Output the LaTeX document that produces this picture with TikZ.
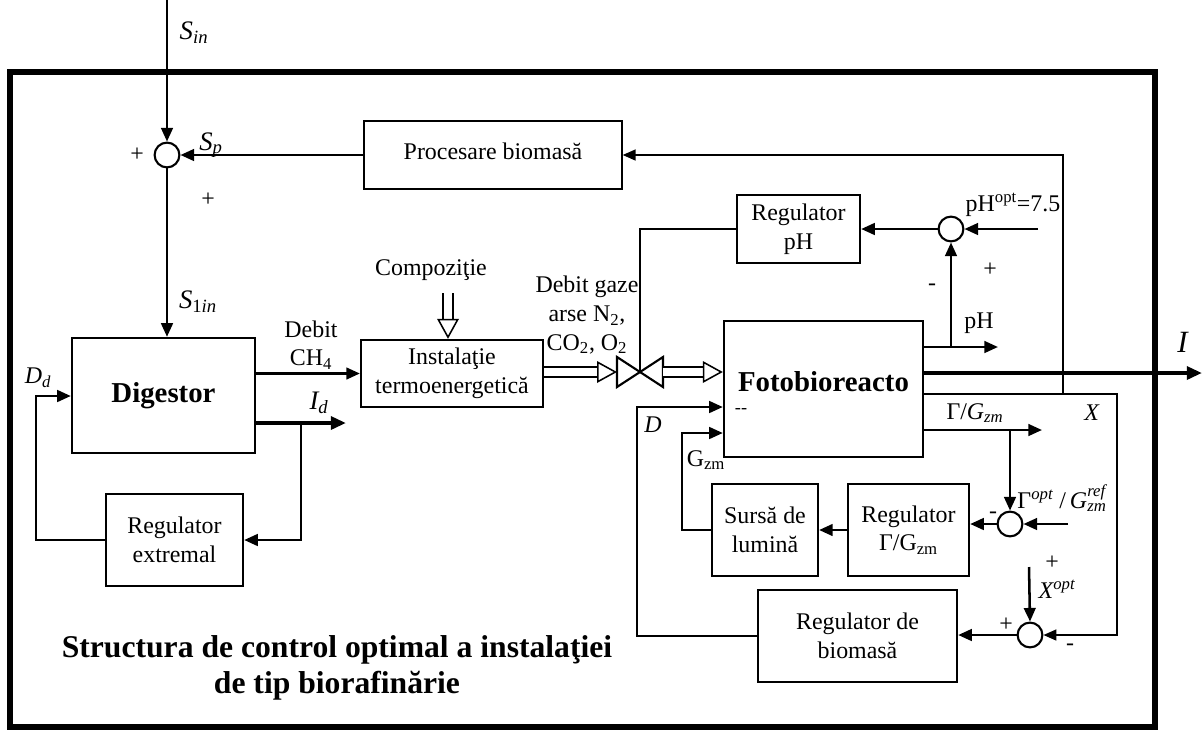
\documentclass[tikz,border=0pt]{standalone}
\usepackage{amsmath}
\usepackage{fontspec}
\setmainfont{Liberation Serif}
\usepackage{tikz}
\usetikzlibrary{arrows.meta, positioning, calc}
\tikzset{
	blk/.style  ={rectangle, draw=black, line width=1.5pt, align=center, inner sep=1pt},
	sumj/.style ={circle, draw=black, line width=1.5pt, minimum size=0.62cm, inner sep=0pt},
	sig/.style  ={-{Triangle[length=3.4mm, width=2.9mm]}, line width=1.8pt},
	wire/.style ={line width=1.2pt},
	fbk/.style  ={-{Triangle[length=3.2mm, width=2.7mm]}, line width=1.2pt},
	gas/.style  ={double, double distance=0.2cm, line width=1.1pt, -{Triangle[open, length=5mm, width=5.4mm]}},
	thk/.style  ={-{Triangle[length=3.8mm, width=3.2mm]}, line width=2.9pt},
	lbl/.style  ={inner sep=0pt},
	boldtxt/.style={font=\fontsize{20.5pt}{24pt}\selectfont\bfseries},
}

\begin{document}
\begin{tikzpicture}[x=0.025cm, y=-0.025cm, font=\fontsize{17pt}{20.5pt}\selectfont]
	\useasboundingbox (0,0) rectangle (1202,732);
	% frame of the plant
	\draw[line width=4.7pt] (10,72) rectangle (1155,727);
	% blocks
	\node[blk, minimum width=6.43cm, minimum height=1.7cm] (proc) at (493,155) {\raisebox{6pt}{Procesare biomasă}};
	\node[blk, boldtxt, minimum width=4.58cm, minimum height=2.88cm] (dig) at (163.5,395.5) {Digestor};
	\node[blk, minimum width=4.55cm, minimum height=1.68cm] (inst) at (452,373.5) {Instalaţie\\ termoenergetică};
	\node[blk, minimum width=3.43cm, minimum height=2.3cm] (regext) at (174.5,540) {Regulator\\ extremal};
	\node[blk, minimum width=3.08cm, minimum height=1.7cm] (regph) at (798.5,229) {Regulator\\ pH};
	\node[blk, boldtxt, minimum width=4.98cm, minimum height=3.4cm] (foto) at (823.5,389) {\raisebox{10pt}{Fotobioreacto}};
	\node[blk, minimum width=2.65cm, minimum height=2.28cm] (sursa) at (765,530) {Sursă de\\ lumină};
	\node[blk, minimum width=3.03cm, minimum height=2.28cm] (reggz) at (908.5,530) {Regulator\\ Γ/G\textsubscript{zm}};
	\node[blk, minimum width=4.98cm, minimum height=2.28cm] (regbio) at (857.5,636) {Regulator de\\ biomasă};
	% summing junctions
	\node[sumj] (sum1) at (167,155) {};
	\node[sumj] (sumph) at (951,229) {};
	\node[sumj] (sumg) at (1010,524) {};
	\node[sumj] (sumx) at (1030,635) {};
	% free ends and corners
	\coordinate (sinstart) at (167,0);
	\coordinate (idend) at (346,423);
	\coordinate (idtap) at (301,423);
	\coordinate (ddcorner) at (36,396);
	\coordinate (compin) at (448,293);
	\coordinate (valve) at (640,372);
	\coordinate (vin) at (617,372);
	\coordinate (vout) at (663,372);
	\coordinate (phend) at (998,347);
	\coordinate (phref) at (1038,229);
	\coordinate (Iend) at (1202,373);
	\coordinate (xtop) at (1117,394);
	\coordinate (fbtap) at (1063,394);
	\coordinate (gzend) at (1042,430);
	\coordinate (gref) at (1068,524);
	\coordinate (gcorner) at (682,433);
	\coordinate (xopt) at (1029,567);
	\coordinate (dcorner) at (637,407);
	% valve
	\draw[line width=1.5pt] (vin) ++(0,-15) -- ++(0,30) -- (valve) -- cycle;
	\draw[line width=1.5pt] (vout) ++(0,-15) -- ++(0,30) -- (valve) -- cycle;
	% digester loop
	\draw[sig] (sinstart) -- (sum1.north);
	\draw[sig] (proc.west) -- (sum1.east);
	\draw[sig] (sum1.south) -- (sum1 |- dig.north);
	\draw[sig] (dig.east |- inst.west) -- (inst.west);
	\draw[thk] (dig.east |- idend) -- (idend);
	\draw[sig] (idtap) |- (regext.east);
	\draw[sig] (regext.west) -| (ddcorner) -- (ddcorner -| dig.west);
	% gas flows
	\draw[gas] (compin) -- (compin |- inst.north);
	\draw[gas] (inst.east |- vin) -- (vin);
	\draw[gas] (vout) -- (vout -| foto.west);
	% pH loop
	\draw[wire] (regph.west) -| (valve);
	\draw[sig] (sumph.west) -- (regph.east);
	\draw[sig] (phref) -- (sumph.east);
	\draw[sig] (foto.east |- phend) -- (phend);
	\draw[sig] (sumph |- phend) -- (sumph.south);
	% outputs of the photobioreactor
	\draw[thk] (foto.east |- Iend) -- (Iend);
	\draw[fbk] (foto.east |- xtop) -- (xtop) |- (sumx.east);
	\draw[fbk] (fbtap) |- (proc.east);
	\draw[sig] (foto.east |- gzend) -- (gzend);
	\draw[sig] (sumg |- gzend) -- (sumg.north);
	\draw[sig] (gref) -- (sumg.east);
	\draw[sig] (sumg.west) -- (sumg.west -| reggz.east);
	\draw[sig] (reggz.west) -- (sursa.east);
	\draw[sig] (sursa.west) -| (gcorner) -- (gcorner -| foto.west);
	\draw[sig] (xopt) -- (sumx.north);
	\draw[sig] (sumx.west) -- (sumx.west -| regbio.east);
	\draw[sig] (regbio.west) -| (dcorner) -- (dcorner -| foto.west);
	% labels
	\node[lbl, font=\fontsize{19pt}{22pt}\selectfont] (sinlbl) at (194,33) {$\textit{S}_{\textit{in}}$};
	\node[lbl] (plus1) at (137,155) {+};
	\node[lbl, font=\fontsize{19pt}{22pt}\selectfont] (splbl) at (211,145) {$\textit{S}_{\textit{p}}$};
	\node[lbl] (plus2) at (208,200) {+};
	\node[lbl, font=\fontsize{19pt}{22pt}\selectfont] (s1lbl) at (198,302) {$\textit{S}_{\text{1}\textit{in}}$};
	\node[lbl, align=center] (debitlbl) at (311,345) {Debit\\ CH\textsubscript{4}};
	\node[lbl, font=\fontsize{19pt}{22pt}\selectfont] (idlbl) at (319,403) {$\textit{I}_{\textit{d}}$};
	\node[lbl] (ddlbl) at (38,378) {$\textit{D}_{\textit{d}}$};
	\node[lbl] (comp) at (431,270) {Compoziţie};
	\node[lbl, align=center] (gaslbl) at (587,315) {Debit gaze\\ arse N\textsubscript{2},\\ CO\textsubscript{2}, O\textsubscript{2}};
	\node[lbl] (phopt) at (1013,205) {pH\textsuperscript{opt}=7.5};
	\node[lbl] (plusph) at (990,270) {+};
	\node[lbl] (minph) at (932,287) {-};
	\node[lbl] (phlbl) at (979,323) {pH};
	\node[lbl, font=\fontsize{22pt}{26pt}\selectfont] (Ilbl) at (1183,342) {\textit{I}};
	\node[lbl] (dlbl) at (653,425) {\textit{D}};
	\node[lbl, font=\fontsize{13pt}{15pt}\selectfont] (dash) at (741,411) {{-}{-}};
	\node[lbl] (gzmlbl) at (706,460) {G\textsubscript{zm}};
	\node[lbl] (gzlbl) at (975,413) {Γ/$\textit{G}_{\textit{zm}}$};
	\node[lbl] (xlbl) at (1092,413) {\textit{X}};
	\node[lbl] (gopt) at (1062,498) {Γ$^{\textit{opt}}$ /\,$\textit{G}^{\textit{ref}}_{\textit{zm}}$};
	\node[lbl] (ming) at (993,515) {-};
	\node[lbl] (plusx1) at (1052,563) {+};
	\node[lbl] (xoptlbl) at (1057,589) {$\textit{X}^{\textit{opt}}$};
	\node[lbl] (plusx2) at (1006,625) {+};
	\node[lbl] (minx) at (1070,647) {-};
	\node[lbl, align=center, font=\fontsize{22.5pt}{26pt}\selectfont\bfseries] (title) at (337,668) {Structura de control optimal a instalaţiei\\ de tip biorafinărie};
\end{tikzpicture}
\end{document}
